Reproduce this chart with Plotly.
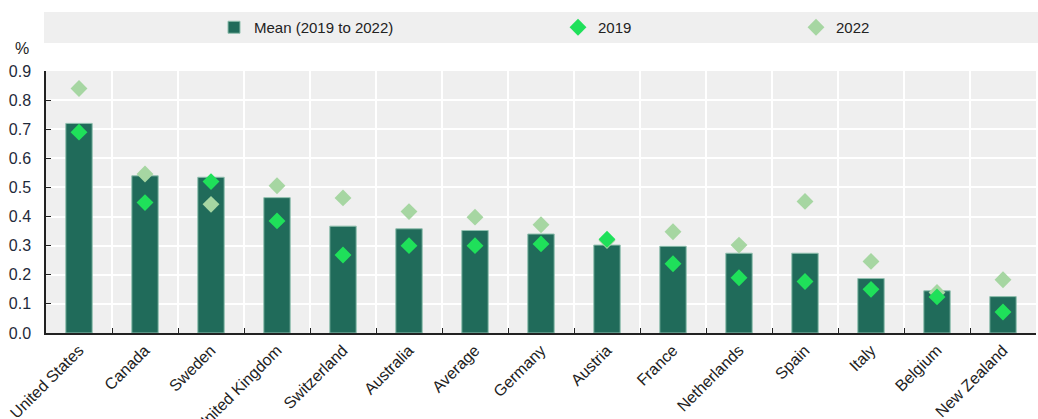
import plotly.graph_objects as go

categories = ["United States", "Canada", "Sweden", "United Kingdom", "Switzerland",
              "Australia", "Average", "Germany", "Austria", "France", "Netherlands",
              "Spain", "Italy", "Belgium", "New Zealand"]
mean_vals = [0.72, 0.54, 0.535, 0.465, 0.367, 0.358, 0.352, 0.340, 0.302, 0.298,
             0.274, 0.274, 0.187, 0.145, 0.125]
v2019 = [0.69, 0.448, 0.52, 0.385, 0.268, 0.300, 0.300, 0.306, 0.322, 0.238,
         0.190, 0.177, 0.150, 0.124, 0.072]
v2022 = [0.84, 0.546, 0.442, 0.506, 0.464, 0.417, 0.398, 0.372, 0.318, 0.348,
         0.302, 0.452, 0.246, 0.139, 0.183]
y_ticks = [0.0, 0.1, 0.2, 0.3, 0.4, 0.5, 0.6, 0.7, 0.8, 0.9]

BAR = "#206b5a"
C19 = "#1fe05a"
C22 = "#a6d6a2"
FONT = "Liberation Sans, Arial, sans-serif"
FS = 16

L, R, T, B = 46, 2, 71, 86
PW = 1038 - L - R
PH = 419 - T - B


def px_x(x):
    return (x - L) / PW


def px_y(y):
    return (419 - B - y) / PH


fig = go.Figure()
fig.add_trace(go.Bar(x=categories, y=mean_vals, name="Mean (2019 to 2022)",
                     marker=dict(color=BAR, line=dict(color="#8fbfae", width=1)),
                     width=0.4, legend="legend", showlegend=True))
fig.add_trace(go.Scatter(x=categories, y=v2022, name="2022", mode="markers",
                         marker=dict(symbol="diamond", size=13, color=C22),
                         legend="legend3", showlegend=True))
fig.add_trace(go.Scatter(x=categories, y=v2019, name="2019", mode="markers",
                         marker=dict(symbol="diamond", size=13, color=C19),
                         legend="legend2", showlegend=True))

# legend band
fig.add_shape(type="rect", xref="paper", yref="paper",
              x0=px_x(44), x1=px_x(1038), y0=px_y(43), y1=px_y(12),
              fillcolor="#efefef", line=dict(width=0), layer="below")

leg_common = dict(orientation="h", xref="paper", yref="paper",
                  yanchor="middle", xanchor="left", bgcolor="rgba(0,0,0,0)",
                  font=dict(family=FONT, size=15, color="#222"),
                  itemwidth=30, tracegroupgap=0)
ly = px_y(27.5)
fig.update_layout(
    showlegend=True,
    legend=dict(x=px_x(214), y=ly, **leg_common),
    legend2=dict(x=px_x(558), y=ly, **leg_common),
    legend3=dict(x=px_x(796), y=ly, **leg_common),
)

fig.add_annotation(text="%", xref="paper", yref="paper", x=px_x(22), y=px_y(48),
                   xanchor="center", yanchor="middle", showarrow=False,
                   font=dict(family=FONT, size=FS, color="#222"))

fig.update_layout(
    width=1038, height=419,
    margin=dict(l=L, r=R, t=T, b=B, autoexpand=False),
    paper_bgcolor="white", plot_bgcolor="#efefef",
    font=dict(family=FONT, size=FS, color="#222"),
    xaxis=dict(type="category", range=[-0.5, len(categories) - 0.5],
               tickson="boundaries", ticks="inside", ticklen=5,
               tickcolor="#222", showgrid=True, gridcolor="white", gridwidth=2,
               showline=True, linecolor="#222", linewidth=1.5, tickangle=-45,
               tickfont=dict(family=FONT, size=FS, color="#222"), zeroline=False,
               automargin=False),
    yaxis=dict(range=[0, 0.9], tickvals=y_ticks, tickformat=".1f", ticks="inside",
               ticklen=5, tickcolor="#222", showgrid=True, gridcolor="white",
               gridwidth=2, showline=True, linecolor="#222", linewidth=1.5,
               zeroline=False, tickfont=dict(family=FONT, size=FS, color="#1f2a3a"),
               ticklabelstandoff=10, automargin=False),
)

fig.write_html("out.html", config={"displayModeBar": False},
               post_script="document.body.style.margin='0';document.body.style.overflow='hidden';")
